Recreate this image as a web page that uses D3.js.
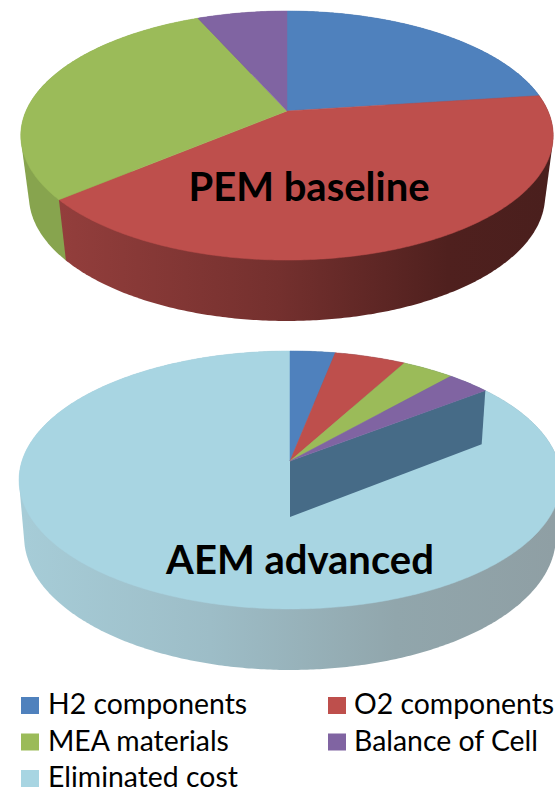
<!DOCTYPE html>
<html>
<head>
<meta charset="utf-8">
<script src="https://cdn.jsdelivr.net/npm/d3@7"></script>
<style>
html,body{margin:0;padding:0;background:#fff;overflow:hidden}
svg{display:block}
text{font-family:Lato,"Open Sans",sans-serif;fill:#000}
</style>
</head>
<body>
<svg id="chart" width="555" height="793"></svg>
<script>
const categories = ["H2 components", "O2 components", "MEA materials", "Balance of Cell", "Eliminated cost"];
const pemValues = [22.9, 40.9, 29.6, 6.6, 0];
const aemValues = [3.1, 4.9, 3.6, 3.0, 85.4];
const colors = ["#4f81bd", "#be4f4c", "#9bbb59", "#8064a2", "#a8d5e2"];

const svg = d3.select("#chart");
const defs = svg.append("defs");
const pie = d3.pie().sort(null).startAngle(0).endAngle(2 * Math.PI);
const outline = d3.line().curve(d3.curveLinear);

// A disc in perspective: the centre sits above the middle of the drawn ellipse.
function makeDisc(cx, cy, rx, ry, k) {
  const p = a => {
    const u = Math.sin(a), v = -Math.cos(a), w = 1 - k * v;
    return [cx + rx * u / w, cy + ry * v / w];
  };
  p.apex = [cx, cy];
  return p;
}
const arcPoints = (p, a0, a1) => {
  const n = Math.max(2, Math.ceil((a1 - a0) / 0.01));
  return d3.range(n + 1).map(i => p(a0 + (a1 - a0) * i / n));
};

function gradient(id, stops, x1, x2) {
  const g = defs.append("linearGradient").attr("id", id)
    .attr("gradientUnits", "userSpaceOnUse")
    .attr("x1", x1).attr("x2", x2).attr("y1", 0).attr("y2", 0);
  stops.forEach(([o, c]) => g.append("stop").attr("offset", o).attr("stop-color", c));
  return `url(#${id})`;
}

function drawPie(values, top, bottom, sideFill, wall) {
  const slices = pie(values).filter(d => d.value > 0);
  const g = svg.append("g");
  // rim first, last slice at the back: each hull's chord is hidden by the next one or by the top
  g.selectAll("path.side").data(slices.slice().reverse()).join("path").attr("class", "side")
    .attr("fill", d => sideFill[d.index])
    .attr("d", d => outline(d3.polygonHull(arcPoints(top, d.startAngle, d.endAngle)
      .concat(arcPoints(bottom, d.startAngle, d.endAngle)))) + "Z");
  const sector = d => outline([top.apex].concat(arcPoints(top, d.startAngle, d.endAngle))) + "Z";
  const large = slices.filter(d => d.value > 50);
  const small = slices.filter(d => d.value <= 50);
  const drawTops = (list, cls) => g.selectAll("path." + cls).data(list).join("path").attr("class", cls)
    .attr("fill", d => colors[d.index])
    .attr("stroke", d => colors[d.index]).attr("stroke-width", 0.5)
    .attr("d", sector);
  drawTops(large, "large");
  if (wall) {
    // cut face along the edge of the large slice
    const a = large[0].startAngle;
    g.append("path").attr("fill", wall)
      .attr("d", outline([top.apex, top(a), bottom(a), bottom.apex]) + "Z");
  }
  drawTops(small, "small");
}

const pemTop = makeDisc(287, 111, 261, 119.7, 0.197);
const pemBottom = makeDisc(287, 171.4, 253, 120.1, 0.197);
const aemTop = makeDisc(290, 461, 268, 126.2, 0.147);
const aemBottom = makeDisc(290, 517, 263, 130.5, 0.147);

const pemRed = gradient("pemRed", [[0, "#933e3c"], [0.45, "#74302e"], [0.8, "#4f201e"], [1, "#4a1f1d"]], 60, 545);
const aemBlue = gradient("aemBlue", [[0, "#a6ccd7"], [0.35, "#9dbdc7"], [0.7, "#91a6ac"], [1, "#8f9fa4"]], 25, 555);

drawPie(pemValues, pemTop, pemBottom, ["#3c5f8c", pemRed, "#87a44e", "#5f4a78", "#000"], null);
drawPie(aemValues, aemTop, aemBottom, ["#466b87", "#466b87", "#466b87", "#466b87", aemBlue], "#466b87");

svg.append("text").attr("x", 309).attr("y", 201).attr("text-anchor", "middle")
  .attr("font-size", 40).attr("font-weight", 700).text("PEM baseline");
svg.append("text").attr("x", 300).attr("y", 574).attr("text-anchor", "middle")
  .attr("font-size", 40).attr("font-weight", 700).text("AEM advanced");

// legend: two columns, filled row by row
const colX = d3.scaleOrdinal().domain([0, 1]).range([21, 328]);
const rowY = d3.scalePoint().domain([0, 1, 2]).range([697, 770]);
const legend = svg.append("g").selectAll("g").data(categories).join("g")
  .attr("transform", (d, i) => `translate(${colX(i % 2)},${rowY(Math.floor(i / 2))})`);
legend.append("rect").attr("width", 18).attr("height", 17).attr("fill", (d, i) => colors[i]);
legend.append("text").attr("x", (d, i) => i % 2 ? 26 : 27).attr("y", 17)
  .attr("font-size", 28.4).text(d => d);
</script>
</body>
</html>
